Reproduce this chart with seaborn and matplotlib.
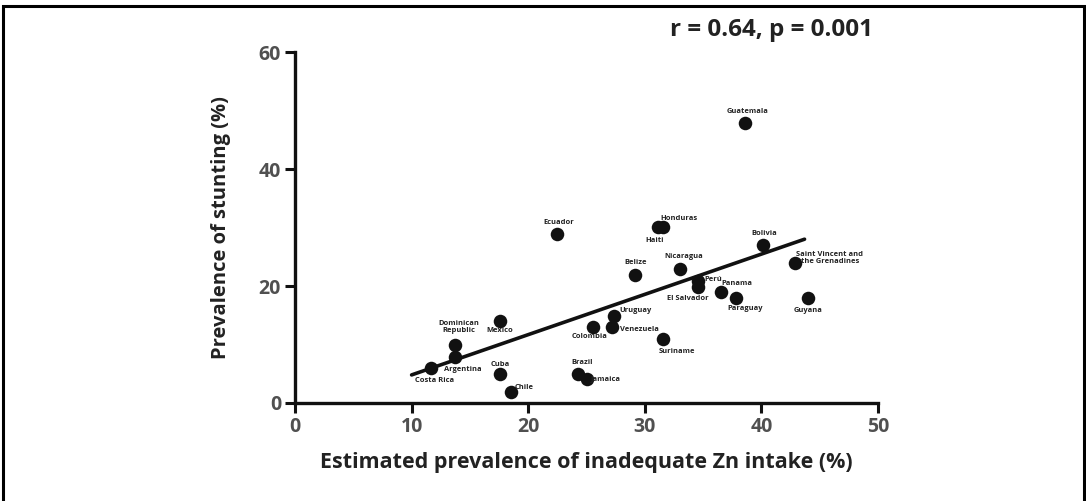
import numpy as np
import pandas as pd
import seaborn as sns
import matplotlib.pyplot as plt
from matplotlib.patches import Rectangle

# Data
countries = ['Costa Rica', 'Argentina', 'Dominican\nRepublic', 'Mexico', 'Cuba', 'Chile',
             'Ecuador', 'Brazil', 'Jamaica', 'Colombia', 'Venezuela', 'Uruguay', 'Belize',
             'Suriname', 'Haiti', 'Honduras', 'Nicaragua', 'Perú', 'El Salvador', 'Panama',
             'Paraguay', 'Guatemala', 'Bolivia', 'Saint Vincent and\nthe Grenadines', 'Guyana']
zn_inadequate = [11.7, 13.7, 13.7, 17.6, 17.6, 18.5,
                 22.5, 24.3, 25.0, 25.6, 27.2, 27.4, 29.2,
                 31.6, 31.1, 31.6, 33.0, 34.6, 34.6, 36.5,
                 37.8, 38.6, 40.1, 42.9, 44.0]
stunting = [6.0, 7.9, 9.9, 14.0, 5.0, 1.9,
            28.9, 5.0, 4.1, 13.0, 13.0, 14.9, 21.9,
            10.9, 30.1, 30.1, 22.9, 20.8, 19.8, 19.0,
            18.0, 47.9, 27.0, 23.9, 18.0]

# fitted line as drawn in the figure
fit_x = [10.0, 43.7]
fit_y = [4.8, 28.0]

# label offsets (points) relative to each marker
label_offsets = {
    'Costa Rica': (2, -9), 'Argentina': (6, -9), 'Dominican\nRepublic': (3, 13),
    'Mexico': (0, -7), 'Cuba': (0, 7), 'Chile': (10, 3), 'Ecuador': (1, 8),
    'Brazil': (3, 8), 'Jamaica': (14, 0), 'Colombia': (-3, -7), 'Venezuela': (20, -2),
    'Uruguay': (15, 4), 'Belize': (0, 9), 'Suriname': (10, -9), 'Haiti': (-2, -10),
    'Honduras': (11, 6), 'Nicaragua': (3, 9), 'Perú': (11, 1), 'El Salvador': (-8, -8),
    'Panama': (12, 6), 'Paraguay': (7, -8), 'Guatemala': (2, 8), 'Bolivia': (1, 8),
    'Saint Vincent and\nthe Grenadines': (25, 4), 'Guyana': (0, -9),
}

df = pd.DataFrame({'country': countries, 'zn': zn_inadequate, 'stunting': stunting})

sns.set_style('ticks')
plt.rcParams['font.family'] = ['Open Sans', 'DejaVu Sans']

fig = plt.figure(figsize=(10.86, 5.01), dpi=100)
ax = fig.add_axes([295 / 1086, 98 / 501, 583 / 1086, 351 / 501])

sns.scatterplot(data=df, x='zn', y='stunting', s=95, color='#111111',
                edgecolor='#111111', linewidth=0, ax=ax, zorder=3)
sns.lineplot(x=fit_x, y=fit_y, color='#111111', linewidth=2.6, ax=ax, zorder=2)

for name, xv, yv in zip(countries, zn_inadequate, stunting):
    dx, dy = label_offsets[name]
    ax.annotate(name, (xv, yv), xytext=(dx, dy), textcoords='offset points',
                ha='center', va='center', fontsize=5.4, fontweight='bold',
                color='#222222', linespacing=1.0)

ax.set_xlim(0, 50)
ax.set_ylim(0, 60)
ax.set_xticks([0, 10, 20, 30, 40, 50])
ax.set_yticks([0, 20, 40, 60])
ax.tick_params(axis='both', length=7, width=2.2, colors='#111111',
               labelsize=14, labelcolor='#505050', pad=3)
for lbl in ax.get_xticklabels() + ax.get_yticklabels():
    lbl.set_fontweight('bold')
for side in ['left', 'bottom']:
    ax.spines[side].set_linewidth(2.4)
    ax.spines[side].set_color('#111111')
sns.despine(ax=ax)
ax.margins(0)

ax.set_xlabel('Estimated prevalence of inadequate Zn intake (%)', fontsize=15.5,
              fontweight='bold', color='#222222', labelpad=11)
ax.set_ylabel('Prevalence of stunting (%)', fontsize=14.5, fontweight='bold',
              color='#222222', labelpad=20)

fig.text(771 / 1086, 1 - 30 / 501, 'r = 0.64, p = 0.001', ha='center', va='center',
         fontsize=17.5, fontweight='bold', color='#222222')

# outer frame (bottom edge falls outside the image)
fig.patches.append(Rectangle((3 / 1086, -0.02), 1081 / 1086, 1 - 6 / 501 + 0.02,
                             transform=fig.transFigure, fill=False,
                             edgecolor='black', linewidth=2.2))

fig.savefig('out.png', dpi=100)
